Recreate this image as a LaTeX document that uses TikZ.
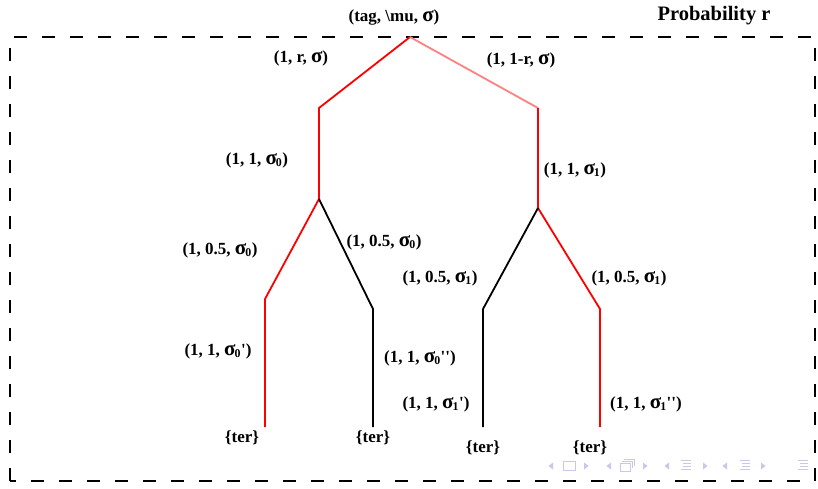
\documentclass[tikz,border=0pt]{standalone}
\usepackage{fontspec}
\setmainfont{Liberation Serif}
\newcommand{\qs}{\textquotesingle}
\newcommand{\sgb}{{\fontsize{21}{22}\selectfont σ}}
\newcommand{\sgm}[1]{\sgb\kern-1pt\textsubscript{#1}}
\begin{document}
\begin{tikzpicture}[x=1pt,y=-1pt,
  edge/.style={line width=1.8pt},
  redge/.style={edge,draw=red},
  pedge/.style={edge,draw=red!50},
  bedge/.style={edge,draw=black},
  lab/.style={font=\fontsize{17}{18}\selectfont\bfseries, inner sep=0pt},
  frame/.style={line width=1.8pt, dash pattern=on 13pt off 15pt},
  nav/.style={draw=navc, fill=none, line width=0.8pt}]
\definecolor{navc}{RGB}{200,200,232}
\useasboundingbox (0,0) rectangle (818,489);
\draw[frame] (10,481) -- (10,37) -- (815,37) -- (815,481) -- cycle;
% tree points
\coordinate (R) at (410,37);
\coordinate (A) at (319,108);
\coordinate (B) at (538,108);
\coordinate (A2) at (319,199);
\coordinate (B2) at (538,208);
\coordinate (C) at (265,299);
\coordinate (D) at (373,309);
\coordinate (E) at (483,309);
\coordinate (F) at (600,309);
\coordinate (Ce) at (265,427);
\coordinate (De) at (373,427);
\coordinate (Ee) at (483,427);
\coordinate (Fe) at (600,427);
\draw[redge] (R) -- (A) -- (A2) -- (C) -- (Ce);
\draw[pedge] (R) -- (B);
\draw[redge] (B) -- (B2) -- (F) -- (Fe);
\draw[bedge] (A2) -- (D) -- (De);
\draw[bedge] (B2) -- (E) -- (Ee);
% labels
\node[lab] (l0) at (394,17) {(tag, \textbackslash mu, \sgb)};
\node[font=\fontsize{20.5}{22}\selectfont\bfseries, inner sep=0pt] (prob) at (714,16) {Probability r};
\node[lab] (l1) at (301,58) {(1, r, \sgb)};
\node[lab] (l2) at (521,60) {(1, 1-r, \sgb)};
\node[lab] (l3) at (257,160) {(1, 1, \sgm{0})};
\node[lab] (l4) at (575,170) {(1, 1, \sgm{1})};
\node[lab] (l5) at (220,250) {(1, 0.5, \sgm{0})};
\node[lab] (l6) at (384,242) {(1, 0.5, \sgm{0})};
\node[lab] (l7) at (440,278) {(1, 0.5, \sgm{1})};
\node[lab] (l8) at (629,278) {(1, 0.5, \sgm{1})};
\node[lab] (l9) at (218,351) {(1, 1, \sgm{0}\qs)};
\node[lab] (l10) at (420,358) {(1, 1, \sgm{0}\qs\qs)};
\node[lab] (l11) at (436,404) {(1, 1, \sgm{1}\qs)};
\node[lab] (l12) at (646,404) {(1, 1, \sgm{1}\qs\qs)};
\node[lab] (t1) at (242,438) {\{ter\}};
\node[lab] (t2) at (373,438) {\{ter\}};
\node[lab] (t3) at (483,448) {\{ter\}};
\node[lab] (t4) at (590,448) {\{ter\}};
% navigation symbols
\foreach \x in {551,609,667,725} {\fill[navc] (\x+2,462.5) -- (\x+2,469.5) -- (\x-2.5,466) -- cycle;}
\foreach \x in {586,645,705,763} {\fill[navc] (\x-2,462.5) -- (\x-2,469.5) -- (\x+2.5,466) -- cycle;}
\draw[nav] (563,461.5) rectangle (575,470.5);
\draw[nav] (620,463) rectangle (630,471) (622,461) -- (632,461) -- (632,468) (624,459) -- (634,459) -- (634,466);
\foreach \x in {686,745,803} {
  \draw[nav] (\x-5,460.5) -- (\x+5,460.5) (\x-3,463.5) -- (\x+5,463.5) (\x-3,466.5) -- (\x+5,466.5) (\x-5,469.5) -- (\x+5,469.5);
}
\end{tikzpicture}
\end{document}
